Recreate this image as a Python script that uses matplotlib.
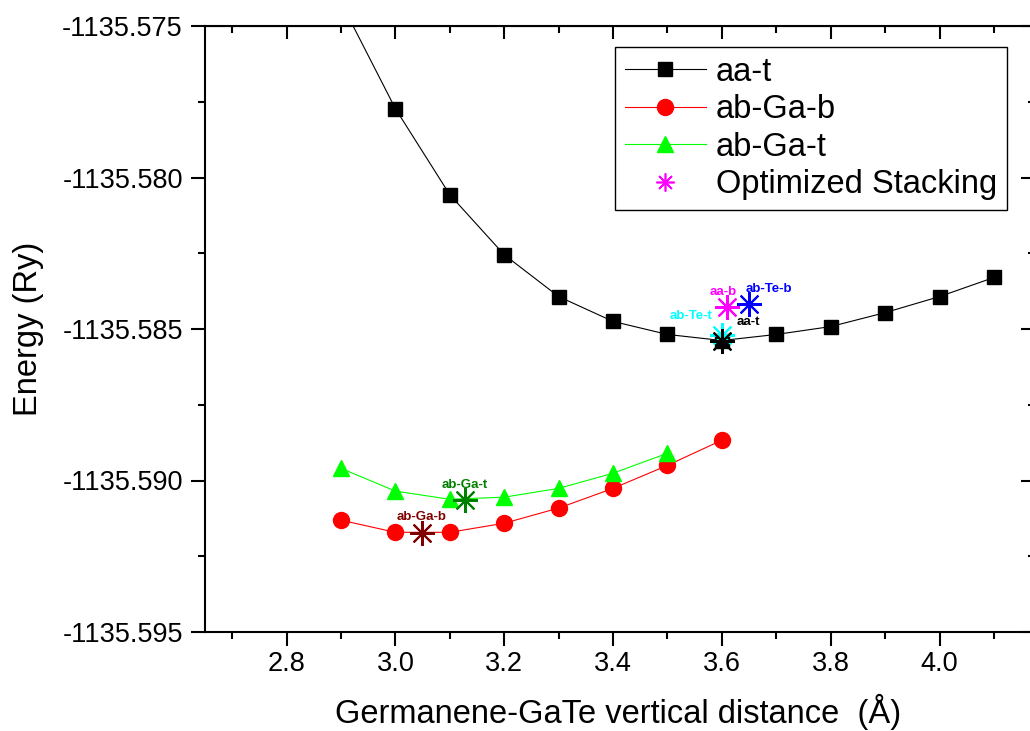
import matplotlib
matplotlib.use('Agg')
import matplotlib.pyplot as plt
from matplotlib.ticker import MultipleLocator, FormatStrFormatter

plt.rcParams['font.family'] = ['Liberation Sans', 'DejaVu Sans']
plt.rcParams['axes.unicode_minus'] = False

# interlayer distance (A) and total energy (Ry)
d_aat = [2.9, 3.0, 3.1, 3.2, 3.3, 3.4, 3.5, 3.6, 3.7, 3.8, 3.9, 4.0, 4.1]
e_aat = [-1135.57422, -1135.57773, -1135.58057, -1135.58255, -1135.58393, -1135.58475,
         -1135.58518, -1135.58538, -1135.58518, -1135.58492, -1135.58446, -1135.58393,
         -1135.58330]

d_gab = [2.9, 3.0, 3.1, 3.2, 3.3, 3.4, 3.5, 3.6]
e_gab = [-1135.59131, -1135.59171, -1135.59171, -1135.59141, -1135.59091, -1135.59026,
         -1135.58950, -1135.58867]

d_gat = [2.9, 3.0, 3.1, 3.2, 3.3, 3.4, 3.5]
e_gat = [-1135.58960, -1135.59035, -1135.59062, -1135.59055, -1135.59026, -1135.58976,
         -1135.58910]

# optimized stackings
opt_names = ['aa-b', 'ab-Te-b', 'ab-Te-t', 'aa-t', 'ab-Ga-t', 'ab-Ga-b']
opt_d = [3.61, 3.65, 3.60, 3.60, 3.127, 3.048]
opt_e = [-1135.58429, -1135.58419, -1135.58521, -1135.58538, -1135.59065, -1135.59174]
opt_colors = ['#FF00FF', '#0000FF', '#00FFFF', '#000000', '#008000', '#800000']
opt_offsets = [(-3, 11), (14, 11), (-22, 14), (19, 13), (0, 11), (0, 11.5)]

dpi = 100
fig = plt.figure(dpi=dpi, figsize=(1030 / dpi, 731 / dpi))
ax = fig.add_axes([205 / 1030, 99 / 731, 827 / 1030, 606 / 731])

ax.plot(d_aat, e_aat, color='black', lw=0.8, marker='s', ms=10, label='aa-t')
ax.plot(d_gab, e_gab, color='#FF0000', lw=0.8, marker='o', ms=11.5, label='ab-Ga-b')
ax.plot(d_gat, e_gat, color='#00FF00', lw=0.8, marker='^', ms=12, label='ab-Ga-t')

star = (8, 2, 0)
for i in range(len(opt_names)):
    ax.plot(opt_d[i], opt_e[i], ls='none', marker=star, ms=18, mew=1.5,
            color=opt_colors[i], label='Optimized Stacking' if i == 0 else None, zorder=5)
    ax.annotate(opt_names[i], (opt_d[i], opt_e[i]), xytext=opt_offsets[i],
                textcoords='offset points', ha='center', va='center',
                fontsize=9.5, fontweight='bold', color=opt_colors[i], zorder=6)

ax.set_xlim(2.65, 4.17)
ax.set_ylim(-1135.595, -1135.575)
ax.xaxis.set_major_locator(MultipleLocator(0.2))
ax.xaxis.set_minor_locator(MultipleLocator(0.1))
ax.yaxis.set_major_locator(MultipleLocator(0.005))
ax.yaxis.set_minor_locator(MultipleLocator(0.0025))
ax.yaxis.set_major_formatter(FormatStrFormatter('%.3f'))
ax.xaxis.set_major_formatter(FormatStrFormatter('%.1f'))

for s in ax.spines.values():
    s.set_linewidth(1.5)
ax.tick_params(which='both', direction='out', width=1.5, labelsize=19.5)
ax.tick_params(which='major', length=10)
ax.tick_params(which='minor', length=5)
ax.tick_params(axis='y', which='major', pad=6)
ax.tick_params(axis='x', which='major', pad=4)

top = ax.secondary_xaxis('top')
top.xaxis.set_major_locator(MultipleLocator(0.2))
top.xaxis.set_minor_locator(MultipleLocator(0.1))
top.tick_params(which='both', direction='in', width=1.5, labeltop=False)
top.tick_params(which='major', length=9)
top.tick_params(which='minor', length=5)
right = ax.secondary_yaxis('right')
right.yaxis.set_major_locator(MultipleLocator(0.005))
right.yaxis.set_minor_locator(MultipleLocator(0.0025))
right.tick_params(which='both', direction='in', width=1.5, labelright=False)
right.tick_params(which='major', length=8)
right.tick_params(which='minor', length=3)

ax.set_xlabel('Germanene-GaTe vertical distance  (\u00c5)', fontsize=23.5, labelpad=12)
ax.set_ylabel('Energy (Ry)', fontsize=23.5, labelpad=13)

leg = ax.legend(loc='upper right', bbox_to_anchor=(1007 / 1030, 1 - 47 / 731),
                bbox_transform=fig.transFigure, borderaxespad=0, fontsize=23.5,
                frameon=True, fancybox=False, edgecolor='black', framealpha=1,
                handlelength=2.5, handletextpad=0.3, labelspacing=0.2, borderpad=0.3)
leg.get_frame().set_linewidth(1.0)
leg.legend_handles[3].set_markersize(13)
leg.legend_handles[3].set_markeredgewidth(1.2)

plt.savefig('out.png', dpi=dpi)
